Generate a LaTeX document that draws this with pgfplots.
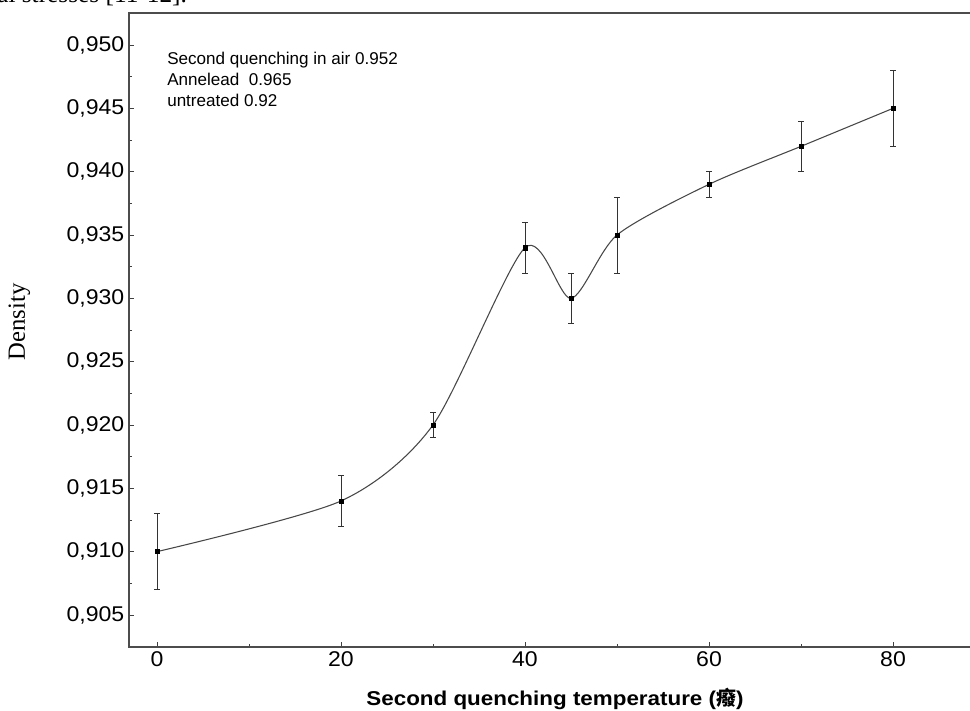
\documentclass[border=0pt]{standalone}
\usepackage{pgfplots}
\usepackage{pgfplotstable}
\pgfplotsset{compat=1.18}
\usepackage{fontspec}
\setmainfont{Liberation Sans}
\newfontfamily\ticksfont{Liberation Sans}[FakeStretch=1.08]
\newfontfamily\xlabfont{Liberation Sans}[FakeStretch=1.12]
\newfontfamily\seriffont{Liberation Serif}
\newfontfamily\cjk{Noto Sans CJK SC}
\pgfplotstableread{
x y e
0 0.910 0.003
20 0.914 0.002
30 0.920 0.001
40 0.934 0.002
45 0.930 0.002
50 0.935 0.003
60 0.939 0.001
70 0.942 0.002
80 0.945 0.003
}\densdata
\begin{document}
\begin{tikzpicture}
\useasboundingbox (-96.75pt,-47.25pt) rectangle (630.75pt,485.25pt);
\begin{axis}[
  at={(0pt,0pt)}, anchor=south west,
  scale only axis, width=630.75pt, height=475.5pt,
  xmin=-3.043, xmax=88.37, ymin=0.90247, ymax=0.95253,
  axis line style={draw=none},
  xtick={0,20,40,60,80}, minor xtick={10,30,50,70},
  ytick={0.905,0.910,0.915,0.920,0.925,0.930,0.935,0.940,0.945,0.950},
  minor ytick={0.9075,0.9125,0.9175,0.9225,0.9275,0.9325,0.9375,0.9425,0.9475},
  xtick pos=left, ytick pos=left, tick align=inside,
  major tick length=4pt, minor tick length=2pt,
  tick style={color=black!75, line width=0.6pt},
  /pgf/number format/assume math mode=true,
  ticklabel style={font=\ticksfont\fontsize{16}{18}\selectfont},
  scaled y ticks=false,
  yticklabel style={/pgf/number format/fixed, /pgf/number format/fixed zerofill, /pgf/number format/precision=3, /pgf/number format/use comma},
  clip=false,
]
\addplot[smooth, tension=0.45, color=black!72, line width=0.8pt, no marks] table[x=x,y=y] {\densdata};
\addplot[only marks, mark=square*, mark size=1.6pt, color=black,
  error bars/.cd, y dir=both, y explicit,
  error bar style={black!80, line width=0.7pt},
  error mark options={rotate=90, mark size=2.2pt, black!80, line width=0.7pt}]
  table[x=x,y=y,y error=e] {\densdata};
\draw[black!70, line width=1pt] (rel axis cs:1,0) -- (rel axis cs:0,0) -- (rel axis cs:0,1) -- (rel axis cs:1,1);
\end{axis}
\node[anchor=base west, inner sep=0pt, font=\fontsize{12.8}{15}\selectfont] at (28.5pt,436.5pt) {Second quenching in air 0.952};
\node[anchor=base west, inner sep=0pt, font=\fontsize{12.8}{15}\selectfont] at (28.5pt,420.75pt) {Annelead\ \ 0.965};
\node[anchor=base west, inner sep=0pt, font=\fontsize{12.8}{15}\selectfont] at (28.5pt,405pt) {untreated 0.92};
\node[rotate=90, anchor=base, inner sep=0pt, font=\seriffont\fontsize{18.5}{21}\selectfont] at (-78pt,243.75pt) {Density};
\node[anchor=base, inner sep=0pt, font=\xlabfont\bfseries\fontsize{15}{17}\selectfont] at (319.5pt,-43.5pt) {Second quenching temperature ({\cjk\bfseries 癈})};
\node[anchor=base west, inner sep=0pt, font=\seriffont\fontsize{19}{22}\selectfont] at (-99pt,483pt) {al stresses [11-12].};
\end{tikzpicture}
\end{document}
